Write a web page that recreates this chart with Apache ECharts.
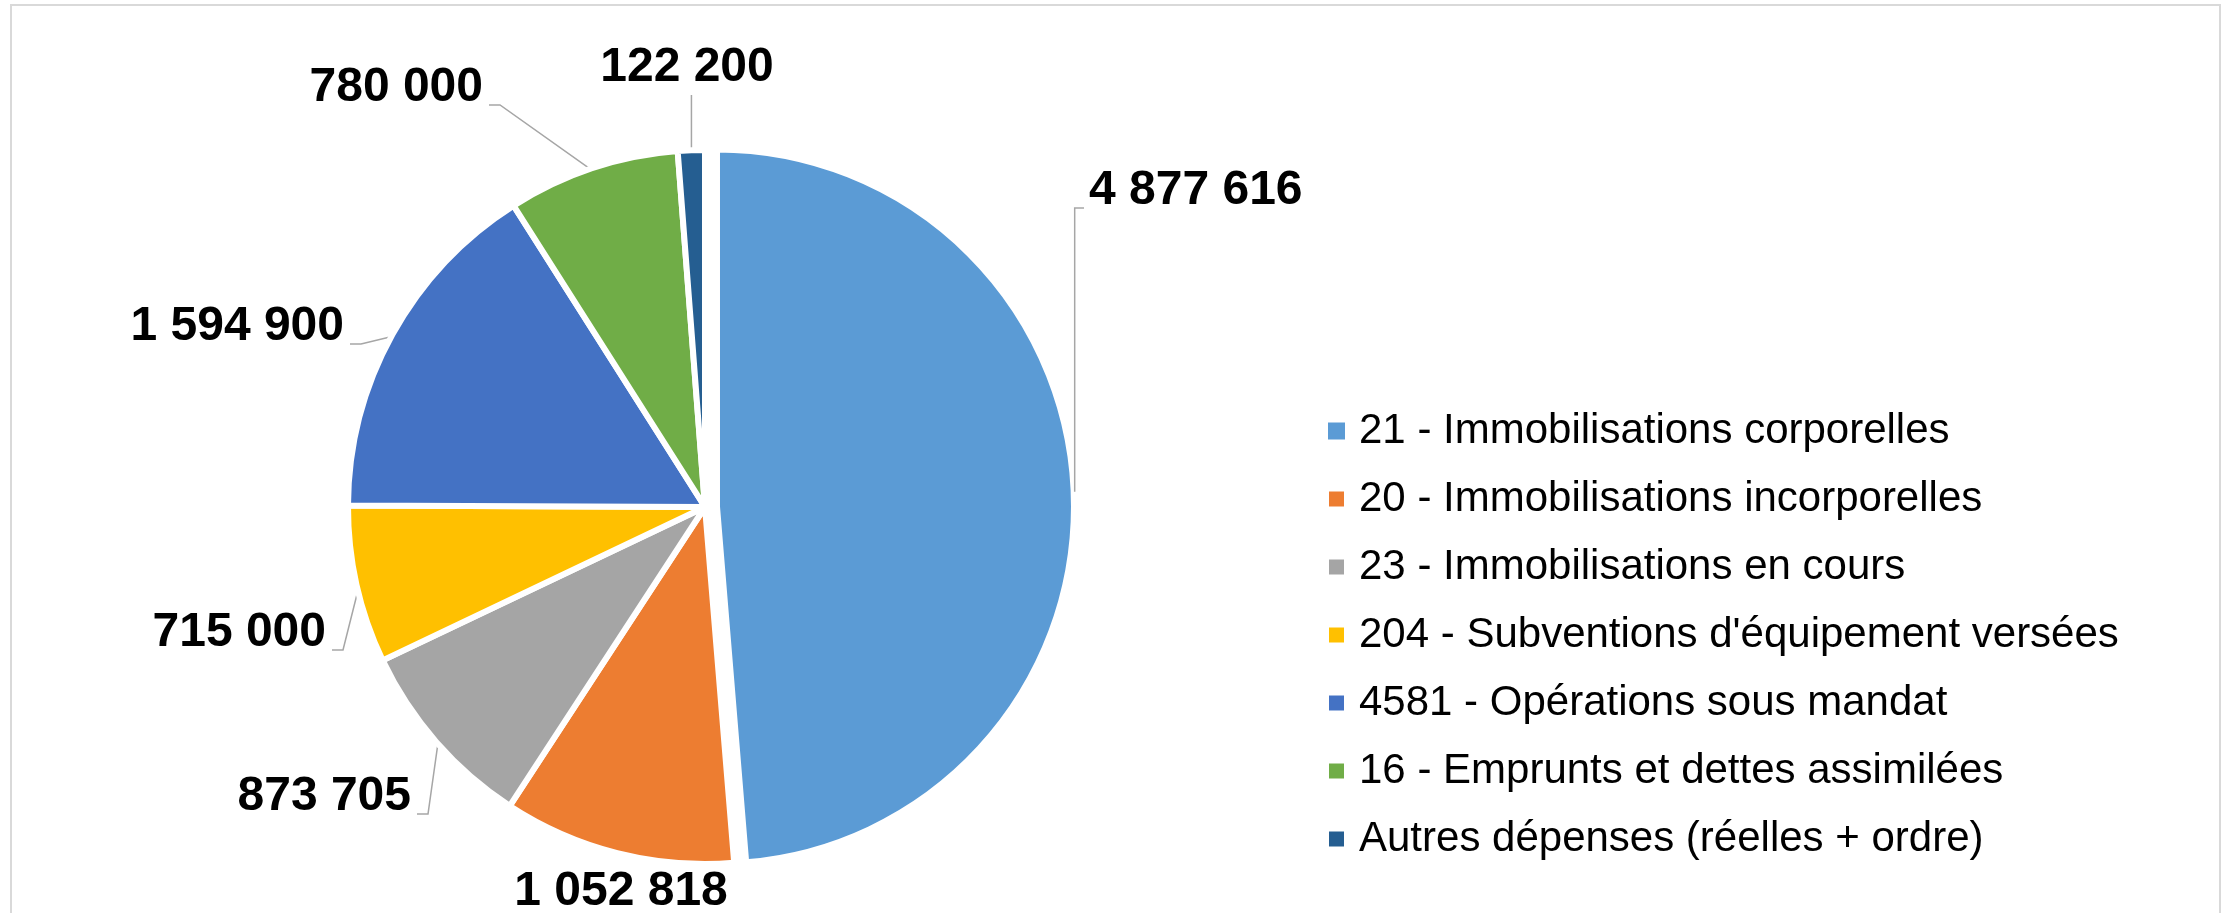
<!DOCTYPE html>
<html>
<head>
<meta charset="utf-8">
<script src="https://cdn.jsdelivr.net/npm/echarts@6/dist/echarts.min.js"></script>
<style>
    html, body {margin: 0; padding: 0; background: #fff;}
    #pie {width: 2233px; height: 913px;}
</style>
</head>
<body>
<div id="pie"></div>
<script>
//données
var categories = ['21 - Immobilisations corporelles', '20 - Immobilisations incorporelles', '23 - Immobilisations en cours',
    "204 - Subventions d'équipement versées", '4581 - Opérations sous mandat', '16 - Emprunts et dettes assimilées',
    'Autres dépenses (réelles + ordre)'];
var values = [4877616, 1052818, 873705, 715000, 1594900, 780000, 122200];
var colors = ['#5B9BD5', '#ED7D31', '#A5A5A5', '#FFC000', '#4472C4', '#70AD47', '#255E91'];

//géométrie du camembert
var cx = 705, cy = 507, radius = 357, explode = 12;
var font = 'Arial, "Liberation Sans"';
var lineColor = '#a6a6a6';

//place des étiquettes
var labelPlace = [
    {x: 1089, y: 191, align: 'left'},
    {x: 621, y: 892, align: 'center', noLine: true},
    {x: 411, y: 797, align: 'right'},
    {x: 326, y: 633, align: 'right'},
    {x: 344, y: 327, align: 'right'},
    {x: 483, y: 88, align: 'right'},
    {x: 687, y: 68, align: 'center', up: true}
];

function fmt(v) {
    return String(v).replace(/\B(?=(\d{3})+(?!\d))/g, ' ');
}

//angle du milieu de la part (depuis midi, sens horaire)
function midAngle(i) {
    var total = 0, before = 0;
    for (var k = 0; k < values.length; k++) {
        total += values[k];
        if (k < i) before += values[k];
    }
    return (before + values[i] / 2) / total * 2 * Math.PI;
}

//point du bord au milieu de la part
function edgePoint(i) {
    var a = midAngle(i);
    var ox = i === 0 ? explode * Math.sin(a) : 0;
    var oy = i === 0 ? -explode * Math.cos(a) : 0;
    var r = i === 0 ? radius + 1 : radius - 3;
    return [cx + ox + r * Math.sin(a), cy + oy - r * Math.cos(a)];
}

//trait de rappel d'une étiquette
function leader(i) {
    var pl = labelPlace[i];
    var s = edgePoint(i);
    var by = pl.y + 17;
    if (pl.noLine) return [s, s, s];
    if (pl.up) return [s, [s[0], pl.y + 27], [s[0], pl.y + 27]];
    if (pl.align === 'left') return [s, [s[0], by], [pl.x - 5, by]];
    return [s, [pl.x + 17, by], [pl.x + 6, by]];
}

function layoutLabel(p) {
    var pl = labelPlace[p.dataIndex];
    return {x: pl.x, y: pl.y, align: pl.align, verticalAlign: 'middle', labelLinePoints: leader(p.dataIndex)};
}

window.onload = function () {
    var myChart = echarts.init(document.getElementById('pie'));

    //série principale (sans la part détachée) et série de la part détachée
    var dataMain = [], dataOut = [], legendData = [];
    for (var i = 0; i < values.length; i++) {
        var hide = {color: 'rgba(0,0,0,0)', borderColor: 'rgba(0,0,0,0)'};
        dataMain.push({
            value: values[i], name: categories[i],
            itemStyle: i === 0 ? hide : {color: colors[i]},
            label: {show: i !== 0}, labelLine: {show: i !== 0}
        });
        dataOut.push({
            value: values[i], name: categories[i],
            itemStyle: i === 0 ? {color: colors[i]} : hide,
            label: {show: i === 0}, labelLine: {show: false}
        });
        legendData.push({name: categories[i], itemStyle: {color: colors[i]}});
    }
    var a0 = midAngle(0);

    var common = {
        type: 'pie',
        radius: radius,
        startAngle: 90,
        clockwise: true,
        avoidLabelOverlap: false,
        silent: true,
        itemStyle: {borderColor: '#fff', borderWidth: 6},
        label: {
            show: true,
            position: 'outside',
            formatter: function (p) { return fmt(p.value); },
            fontFamily: font,
            fontWeight: 'bold',
            fontSize: 48,
            color: '#000'
        },
        labelLine: {
            show: true,
            lineStyle: {color: lineColor, width: 1.5}
        },
        labelLayout: layoutLabel,
        emphasis: {disabled: true}
    };

    var option = {
        animation: false,
        graphic: [{
            type: 'rect',
            shape: {x: 11, y: 5, width: 2209, height: 930},
            style: {fill: 'none', stroke: '#d9d9d9', lineWidth: 2},
            silent: true
        }, {
            //trait de la part détachée
            type: 'polyline',
            z: 10,
            shape: {points: leader(0)},
            style: {fill: 'none', stroke: lineColor, lineWidth: 1.5},
            silent: true
        }],
        legend: {
            orient: 'vertical',
            left: 1322,
            top: 405,
            icon: 'rect',
            itemWidth: 17,
            itemHeight: 17,
            itemGap: 26,
            selectedMode: false,
            textStyle: {
                fontFamily: font,
                fontSize: 42,
                lineHeight: 42,
                color: '#000',
                padding: [0, 0, 0, 9]
            },
            data: legendData
        },
        series: [
            echarts.util.extend({
                center: [cx, cy],
                data: dataMain
            }, common),
            echarts.util.extend({
                center: [cx + explode * Math.sin(a0), cy - explode * Math.cos(a0)],
                data: dataOut
            }, common)
        ]
    };

    myChart.setOption(option);
};
</script>
</body>
</html>
